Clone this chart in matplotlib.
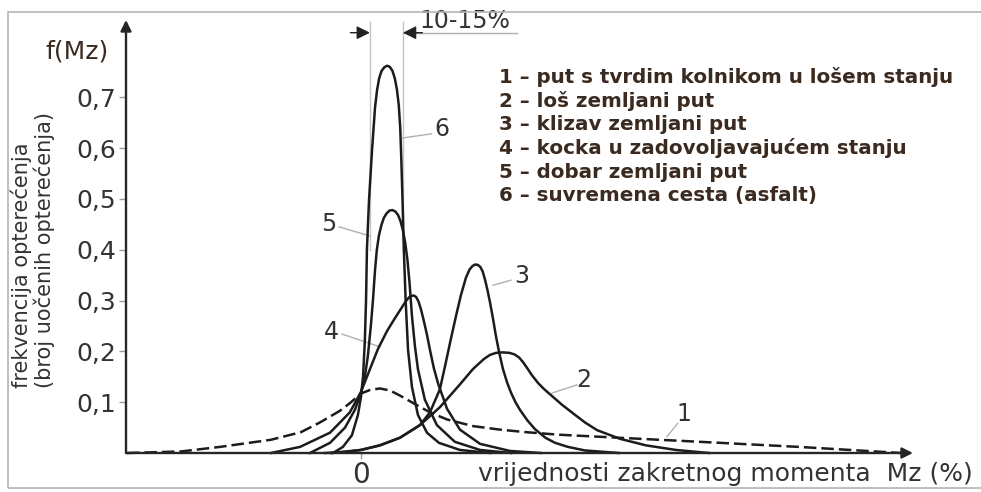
import matplotlib
matplotlib.use('Agg')
import matplotlib.pyplot as plt
from matplotlib.patches import Rectangle

plt.rcParams['font.family'] = ['DejaVu Sans']

# legend text for the six road surfaces
legend_lines = [
    '1 – put s tvrdim kolnikom u lošem stanju',
    '2 – loš zemljani put',
    '3 – klizav zemljani put',
    '4 – kocka u zadovoljavajućem stanju',
    '5 – dobar zemljani put',
    '6 – suvremena cesta (asfalt)',
]

yticks = [0.1, 0.2, 0.3, 0.4, 0.5, 0.6, 0.7]
ytick_labels = ['0,1', '0,2', '0,3', '0,4', '0,5', '0,6', '0,7']

# curves: x = Mz (%), y = f(Mz)
c1_x = [-78, -60, -47, -30, -20, -13.7, -7, -3.7, 0, 3, 6.3, 9.7, 13, 18.7, 23,
        28.7, 37.3, 46.3, 55, 66, 86, 113, 146, 180]
c1_y = [0.0, 0.003, 0.012, 0.026, 0.041, 0.06, 0.083, 0.098, 0.117, 0.124, 0.127,
        0.123, 0.113, 0.094, 0.08, 0.066, 0.053, 0.046, 0.041, 0.036, 0.03, 0.022,
        0.012, 0.0]

c2_x = [-10, 0, 6.3, 13, 19.7, 26.3, 33, 37.3, 41, 43, 45, 47.3, 49.5, 51.2, 52.7,
        54, 55.3, 57, 59, 61, 63.7, 67, 70.7, 74.7, 78.7, 86.3, 95, 105, 116]
c2_y = [0.0, 0.006, 0.015, 0.03, 0.055, 0.09, 0.135, 0.165, 0.185, 0.193, 0.197,
        0.198, 0.197, 0.194, 0.188, 0.179, 0.168, 0.153, 0.138, 0.126, 0.112, 0.095,
        0.078, 0.06, 0.045, 0.028, 0.015, 0.006, 0.0]

c3_x = [-12, -5, 0, 6.3, 13, 19.7, 23, 26.3, 28, 30, 31.7, 33.3, 35, 36.2, 37.2,
        38.1, 39, 39.8, 40.6, 41.4, 42.2, 43, 44, 45, 46, 47.3, 48.7, 50, 51.5, 53,
        55.5, 58, 61.5, 64.7, 69, 74.7, 86]
c3_y = [0.0, 0.002, 0.006, 0.015, 0.03, 0.055, 0.08, 0.125, 0.17, 0.225, 0.27,
        0.31, 0.345, 0.361, 0.368, 0.371, 0.37, 0.366, 0.357, 0.34, 0.32, 0.297,
        0.265, 0.23, 0.2, 0.166, 0.139, 0.119, 0.1, 0.085, 0.064, 0.047, 0.03, 0.02,
        0.012, 0.005, 0.0]

c4_x = [-30, -20.3, -10.3, -3.7, 0, 3, 5.7, 8.7, 11.3, 13.7, 15, 16, 16.8, 17.6,
        18.4, 19.2, 20, 20.8, 22, 23, 24.3, 25.7, 28.7, 33, 39.7, 49.7, 60]
c4_y = [0.0, 0.012, 0.04, 0.08, 0.12, 0.165, 0.205, 0.24, 0.265, 0.287, 0.299,
        0.306, 0.309, 0.31, 0.307, 0.298, 0.283, 0.264, 0.233, 0.203, 0.167, 0.137,
        0.087, 0.046, 0.018, 0.004, 0.0]

c5_x = [-17, -10.3, -5.3, -2, 0, 1.3, 2.3, 3.3, 4, 4.7, 5.3, 6, 6.8, 7.6, 8.5, 9.5,
        10.5, 11.5, 12.4, 13.2, 14, 14.8, 15.5, 16.2, 17, 18, 19, 21.3, 25.3, 31.3,
        39.7, 50]
c5_y = [0.0, 0.02, 0.05, 0.085, 0.118, 0.15, 0.19, 0.25, 0.30, 0.36, 0.40, 0.428,
        0.448, 0.462, 0.471, 0.477, 0.478, 0.475, 0.468, 0.456, 0.438, 0.412, 0.38,
        0.335, 0.27, 0.21, 0.165, 0.105, 0.055, 0.022, 0.006, 0.0]

c6_x = [-9.3, -6, -3, -1, 0, 0.7, 1.3, 1.7, 2, 2.7, 3.7, 4.7, 5.4, 6.1, 6.9, 7.8,
        8.7, 9.6, 10.5, 11.3, 12, 12.6, 13.1, 13.5, 13.9, 14.3, 14.9, 15.7, 17, 19,
        22, 26, 33, 43]
c6_y = [0.0, 0.012, 0.035, 0.075, 0.11, 0.15, 0.22, 0.30, 0.40, 0.498, 0.596,
        0.68, 0.715, 0.738, 0.752, 0.759, 0.762, 0.76, 0.752, 0.737, 0.715, 0.685,
        0.64, 0.57, 0.49, 0.40, 0.30, 0.203, 0.13, 0.075, 0.04, 0.02, 0.006, 0.0]

ink = '#1c1c1c'
brown = '#3b2a1f'
grey_txt = '#333333'
leader = '#b0b0b0'

fig = plt.figure(figsize=(9.81, 4.92), dpi=100)
fx = lambda px: px / 981.0
fy = lambda py: 1 - py / 492.0

# light frame round the picture (right edge lies outside)
fig.patches.append(Rectangle((fx(8), fy(488)), fx(1000) - fx(8), fy(12) - fy(488),
                             transform=fig.transFigure, fill=False,
                             edgecolor='#b5b5b5', lw=1.2))

ax = fig.add_axes([fx(126), fy(453), fx(913) - fx(126), fy(20) - fy(453)])
ax.set_xlim(-78.3, 184)
ax.set_ylim(0, 0.852)
for s in ax.spines.values():
    s.set_visible(False)
ax.patch.set_alpha(0)

# axes with arrow heads
arr = dict(arrowstyle='-|>', lw=1.7, color='#262626', mutation_scale=16,
           shrinkA=0, shrinkB=0)
ax.annotate('', xy=(0, 1), xytext=(0, 0), xycoords='axes fraction', arrowprops=arr)
ax.annotate('', xy=(1, 0), xytext=(0, 0), xycoords='axes fraction', arrowprops=arr)

ax.set_yticks(yticks)
ax.set_yticklabels(ytick_labels)
ax.set_xticks([0])
ax.set_xticklabels(['0'])
ax.tick_params(axis='y', length=5, width=1, color='#9a9a9a', pad=2,
               labelsize=18, labelcolor=grey_txt)
ax.tick_params(axis='x', length=4, width=1, color='#9a9a9a', pad=2,
               labelsize=20, labelcolor=grey_txt)

# curves
ax.plot(c1_x, c1_y, color=ink, lw=1.8, dashes=(5, 2), clip_on=False)
for xs, ys in [(c2_x, c2_y), (c3_x, c3_y), (c4_x, c4_y), (c5_x, c5_y), (c6_x, c6_y)]:
    ax.plot(xs, ys, color=ink, lw=1.8, solid_joinstyle='round', clip_on=False)

# 10-15% dimension
ax.plot([3, 3], [0.40, 0.848], color='#c4c4c4', lw=1, zorder=0, clip_on=False)
ax.plot([14, 14], [0.40, 0.848], color='#c4c4c4', lw=1, zorder=0, clip_on=False)
ax.plot([14, 52], [0.827, 0.827], color='#b0b0b0', lw=1, clip_on=False)
dim = dict(arrowstyle='-|>', lw=1, color='#222222', mutation_scale=20,
           shrinkA=0, shrinkB=0)
ax.annotate('', xy=(3, 0.827), xytext=(-3.5, 0.827), arrowprops=dim, annotation_clip=False)
ax.annotate('', xy=(14, 0.827), xytext=(20.5, 0.827), arrowprops=dim, annotation_clip=False)
ax.text(34.8, 0.85, '10-15%', fontsize=17, color=grey_txt, ha='center',
        va='center', clip_on=False)

# curve numbers with leader lines
labels = [('1', (107.7, 0.077), (105.5, 0.058), (102, 0.032)),
          ('2', (74.3, 0.144), (72, 0.134), (63.7, 0.118)),
          ('3', (53.7, 0.348), (50, 0.34), (44, 0.33)),
          ('4', (-9.7, 0.238), (-6.3, 0.234), (6.3, 0.209)),
          ('5', (-10.7, 0.451), (-7.3, 0.445), (3, 0.427)),
          ('6', (27, 0.638), (23.5, 0.628), (14, 0.62))]
for t, (tx, ty), (ax0, ay0), (ax1, ay1) in labels:
    ax.plot([ax0, ax1], [ay0, ay1], color=leader, lw=1, zorder=1)
    ax.text(tx, ty, t, fontsize=17, color=grey_txt, ha='center', va='center')

# legend block
for i, line in enumerate(legend_lines):
    fig.text(fx(499), fy(77 + i * 23.8), line, fontsize=14.3, fontweight='bold',
             color=brown, ha='left', va='center')

# axis titles
fig.text(fx(77), fy(51), 'f(Mz)', fontsize=18, color=brown, ha='center', va='center')
fig.text(fx(21), fy(388), 'frekvencija opterećenja', fontsize=15, color=grey_txt,
         rotation=90, rotation_mode='anchor', ha='left', va='center')
fig.text(fx(44), fy(388), '(broj uočenih opterećenja)', fontsize=15, color=grey_txt,
         rotation=90, rotation_mode='anchor', ha='left', va='center')
fig.text(fx(478), fy(474), 'vrijednosti zakretnog momenta  Mz (%)', fontsize=18,
         color=grey_txt, ha='left', va='center')

fig.savefig('out.png', dpi=100)
